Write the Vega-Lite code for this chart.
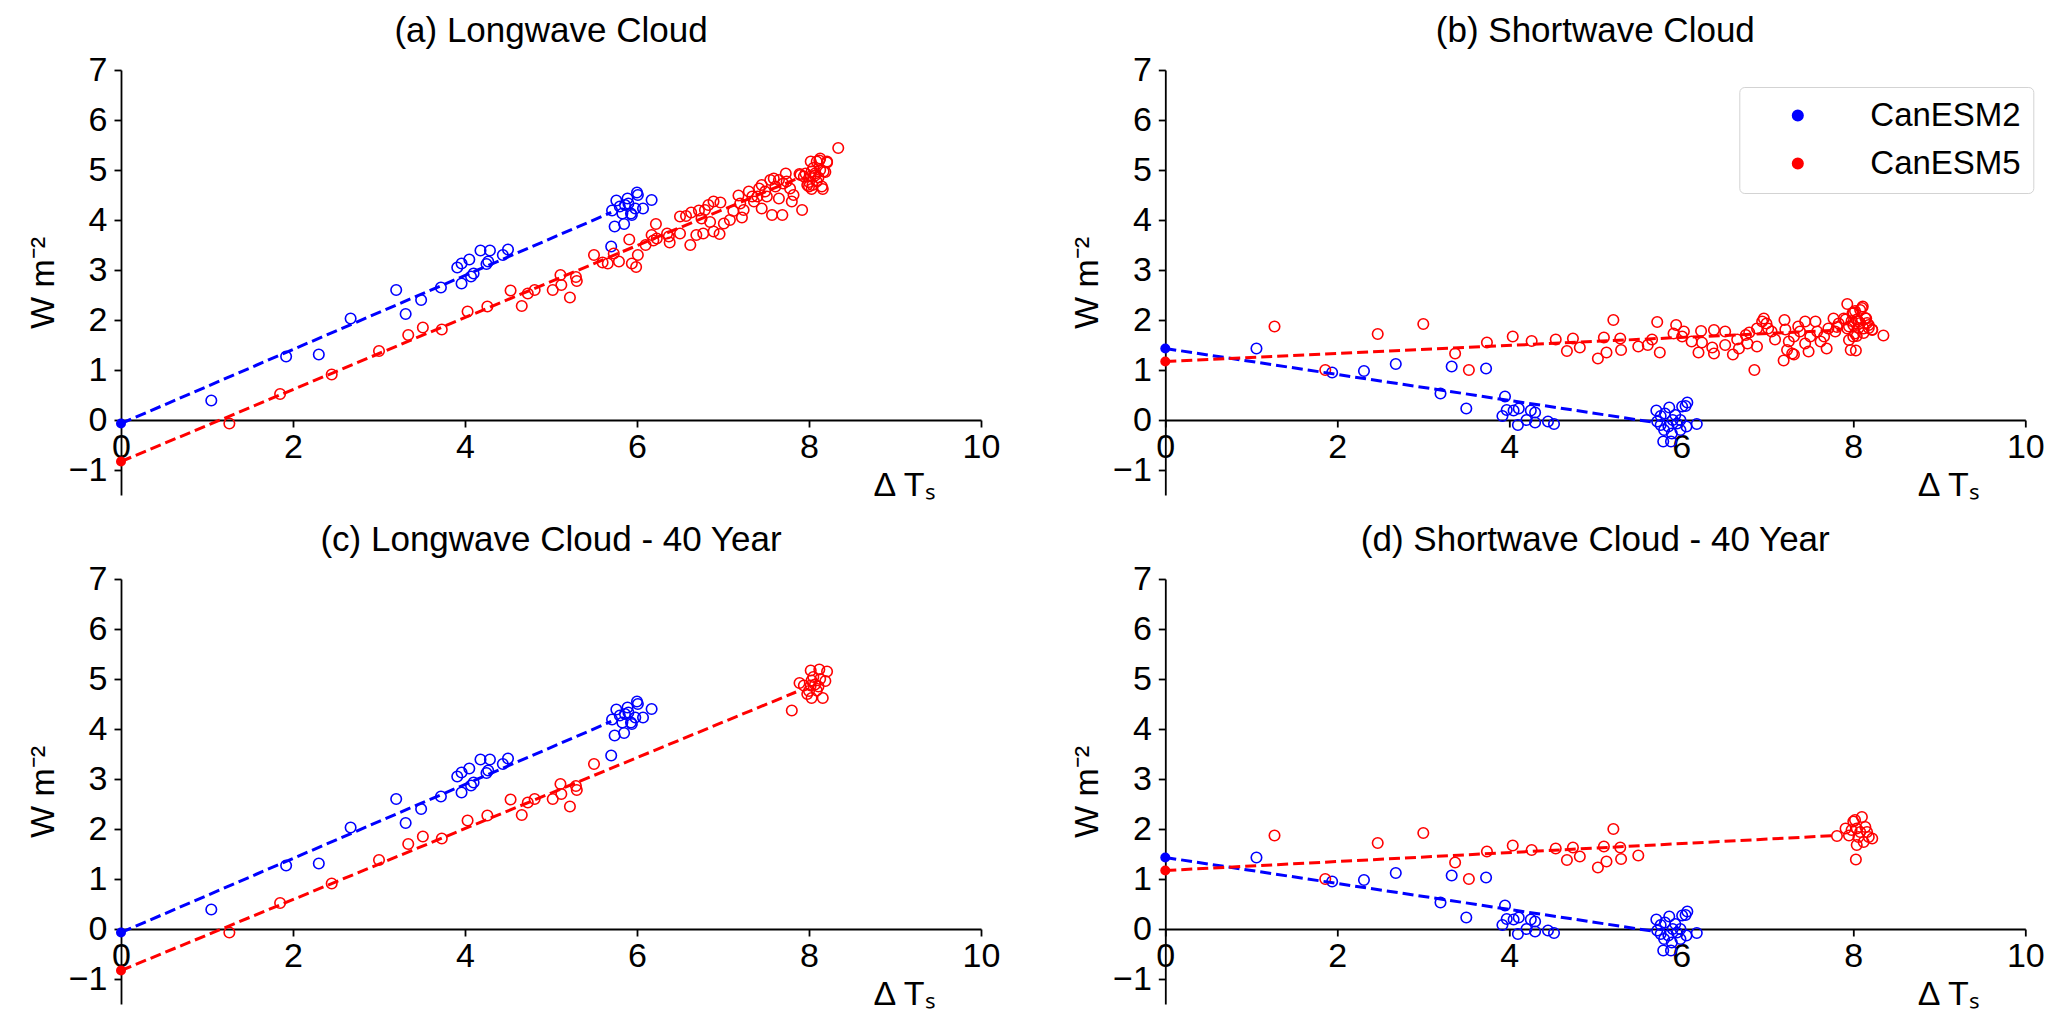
{
"$schema": "https://vega.github.io/schema/vega-lite/v6.json",
"background": "white",
"autosize": {"type": "pad"},
"padding": {"left": 26, "top": 14, "right": 0, "bottom": 0},
"config": {
  "view": {"stroke": null},
  "font": "Liberation Sans",
  "axis": {"domainColor": "black", "domainWidth": 1.8, "tickColor": "black", "tickWidth": 1.8, "tickSize": 7, "labelColor": "black", "labelFontSize": 34, "titleColor": "black", "titleFontSize": 34, "titleFontWeight": "normal", "grid": false, "labelFlush": false, "labelOverlap": false, "labelBound": false},
  "title": {"fontSize": 35, "fontWeight": "normal", "anchor": "middle", "frame": "group", "color": "black", "offset": 4, "baseline": "alphabetic"},
  "legend": {"labelFontSize": 33, "labelColor": "black", "symbolSize": 110, "symbolStrokeWidth": 1.6, "padding": 12, "cornerRadius": 5, "strokeColor": "#d3d3d3", "fillColor": "white", "rowPadding": 14, "symbolOffset": 30, "labelOffset": 56}
},
"datasets": {
"pts": [
{"v":"LW","m":"CanESM2","g":"both","x":1.05,"y":0.39},{"v":"LW","m":"CanESM2","g":"both","x":1.92,"y":1.27},{"v":"LW","m":"CanESM2","g":"both","x":2.30,"y":1.31},{"v":"LW","m":"CanESM2","g":"both","x":2.67,"y":2.03},{"v":"LW","m":"CanESM2","g":"both","x":3.20,"y":2.60},{"v":"LW","m":"CanESM2","g":"both","x":3.31,"y":2.12},{"v":"LW","m":"CanESM2","g":"both","x":3.49,"y":2.40},{"v":"LW","m":"CanESM2","g":"both","x":3.72,"y":2.65},{"v":"LW","m":"CanESM2","g":"both","x":3.96,"y":2.73},{"v":"LW","m":"CanESM2","g":"both","x":3.91,"y":3.05},{"v":"LW","m":"CanESM2","g":"both","x":3.96,"y":3.13},{"v":"LW","m":"CanESM2","g":"both","x":4.05,"y":3.21},{"v":"LW","m":"CanESM2","g":"both","x":4.07,"y":2.87},{"v":"LW","m":"CanESM2","g":"both","x":4.10,"y":2.93},{"v":"LW","m":"CanESM2","g":"both","x":4.18,"y":3.39},{"v":"LW","m":"CanESM2","g":"both","x":4.29,"y":3.39},{"v":"LW","m":"CanESM2","g":"both","x":4.25,"y":3.12},{"v":"LW","m":"CanESM2","g":"both","x":4.27,"y":3.17},{"v":"LW","m":"CanESM2","g":"both","x":4.44,"y":3.30},{"v":"LW","m":"CanESM2","g":"both","x":4.50,"y":3.41},
{"v":"LW","m":"CanESM2","g":"both","x":5.70,"y":3.47},{"v":"LW","m":"CanESM2","g":"both","x":5.74,"y":3.87},{"v":"LW","m":"CanESM2","g":"both","x":5.85,"y":3.92},{"v":"LW","m":"CanESM2","g":"both","x":5.71,"y":4.19},{"v":"LW","m":"CanESM2","g":"both","x":5.76,"y":4.39},{"v":"LW","m":"CanESM2","g":"both","x":5.80,"y":4.27},{"v":"LW","m":"CanESM2","g":"both","x":5.83,"y":4.13},{"v":"LW","m":"CanESM2","g":"both","x":5.89,"y":4.43},{"v":"LW","m":"CanESM2","g":"both","x":5.90,"y":4.33},{"v":"LW","m":"CanESM2","g":"both","x":5.94,"y":4.10},{"v":"LW","m":"CanESM2","g":"both","x":5.98,"y":4.23},{"v":"LW","m":"CanESM2","g":"both","x":6.00,"y":4.55},{"v":"LW","m":"CanESM2","g":"both","x":6.01,"y":4.50},{"v":"LW","m":"CanESM2","g":"both","x":6.07,"y":4.23},{"v":"LW","m":"CanESM2","g":"both","x":6.17,"y":4.40},{"v":"LW","m":"CanESM2","g":"both","x":5.86,"y":4.30},{"v":"LW","m":"CanESM2","g":"both","x":5.93,"y":4.13},
{"v":"SW","m":"CanESM2","g":"both","x":1.06,"y":1.43},{"v":"SW","m":"CanESM2","g":"both","x":1.94,"y":0.95},{"v":"SW","m":"CanESM2","g":"both","x":2.31,"y":0.98},{"v":"SW","m":"CanESM2","g":"both","x":2.68,"y":1.12},{"v":"SW","m":"CanESM2","g":"both","x":3.20,"y":0.53},{"v":"SW","m":"CanESM2","g":"both","x":3.33,"y":1.07},{"v":"SW","m":"CanESM2","g":"both","x":3.50,"y":0.23},{"v":"SW","m":"CanESM2","g":"both","x":3.73,"y":1.03},{"v":"SW","m":"CanESM2","g":"both","x":3.95,"y":0.47},{"v":"SW","m":"CanESM2","g":"both","x":3.92,"y":0.08},{"v":"SW","m":"CanESM2","g":"both","x":3.97,"y":0.20},{"v":"SW","m":"CanESM2","g":"both","x":4.05,"y":0.19},{"v":"SW","m":"CanESM2","g":"both","x":4.11,"y":0.23},{"v":"SW","m":"CanESM2","g":"both","x":4.10,"y":-0.10},{"v":"SW","m":"CanESM2","g":"both","x":4.20,"y":0.00},{"v":"SW","m":"CanESM2","g":"both","x":4.25,"y":0.19},{"v":"SW","m":"CanESM2","g":"both","x":4.30,"y":0.15},{"v":"SW","m":"CanESM2","g":"both","x":4.30,"y":-0.05},{"v":"SW","m":"CanESM2","g":"both","x":4.45,"y":-0.03},{"v":"SW","m":"CanESM2","g":"both","x":4.52,"y":-0.08},
{"v":"SW","m":"CanESM2","g":"both","x":5.71,"y":0.19},{"v":"SW","m":"CanESM2","g":"both","x":5.76,"y":0.08},{"v":"SW","m":"CanESM2","g":"both","x":5.81,"y":0.13},{"v":"SW","m":"CanESM2","g":"both","x":5.86,"y":0.25},{"v":"SW","m":"CanESM2","g":"both","x":5.93,"y":0.10},{"v":"SW","m":"CanESM2","g":"both","x":5.72,"y":-0.03},{"v":"SW","m":"CanESM2","g":"both","x":5.76,"y":-0.10},{"v":"SW","m":"CanESM2","g":"both","x":5.80,"y":-0.20},{"v":"SW","m":"CanESM2","g":"both","x":5.85,"y":-0.13},{"v":"SW","m":"CanESM2","g":"both","x":5.79,"y":-0.43},{"v":"SW","m":"CanESM2","g":"both","x":5.88,"y":-0.43},{"v":"SW","m":"CanESM2","g":"both","x":5.89,"y":-0.27},{"v":"SW","m":"CanESM2","g":"both","x":5.95,"y":-0.07},{"v":"SW","m":"CanESM2","g":"both","x":5.99,"y":0.00},{"v":"SW","m":"CanESM2","g":"both","x":5.99,"y":-0.20},{"v":"SW","m":"CanESM2","g":"both","x":6.01,"y":0.27},{"v":"SW","m":"CanESM2","g":"both","x":6.05,"y":0.28},{"v":"SW","m":"CanESM2","g":"both","x":6.07,"y":0.35},{"v":"SW","m":"CanESM2","g":"both","x":6.06,"y":-0.13},{"v":"SW","m":"CanESM2","g":"both","x":6.18,"y":-0.08},{"v":"SW","m":"CanESM2","g":"both","x":5.90,"y":0.00},
{"v":"LW","m":"CanESM5","g":"both","x":1.26,"y":-0.07},{"v":"LW","m":"CanESM5","g":"both","x":1.85,"y":0.52},{"v":"LW","m":"CanESM5","g":"both","x":2.45,"y":0.91},{"v":"LW","m":"CanESM5","g":"both","x":3.00,"y":1.38},{"v":"LW","m":"CanESM5","g":"both","x":3.34,"y":1.70},{"v":"LW","m":"CanESM5","g":"both","x":3.51,"y":1.85},{"v":"LW","m":"CanESM5","g":"both","x":3.73,"y":1.81},{"v":"LW","m":"CanESM5","g":"both","x":4.03,"y":2.17},{"v":"LW","m":"CanESM5","g":"both","x":4.26,"y":2.27},{"v":"LW","m":"CanESM5","g":"both","x":4.53,"y":2.59},{"v":"LW","m":"CanESM5","g":"both","x":4.66,"y":2.28},{"v":"LW","m":"CanESM5","g":"both","x":4.73,"y":2.53},{"v":"LW","m":"CanESM5","g":"both","x":4.81,"y":2.60},{"v":"LW","m":"CanESM5","g":"both","x":5.02,"y":2.60},{"v":"LW","m":"CanESM5","g":"both","x":5.11,"y":2.90},{"v":"LW","m":"CanESM5","g":"both","x":5.12,"y":2.70},{"v":"LW","m":"CanESM5","g":"both","x":5.22,"y":2.45},{"v":"LW","m":"CanESM5","g":"both","x":5.29,"y":2.86},{"v":"LW","m":"CanESM5","g":"both","x":5.30,"y":2.78},{"v":"LW","m":"CanESM5","g":"both","x":5.50,"y":3.30},
{"v":"LW","m":"CanESM5","g":"both","x":7.80,"y":4.37},{"v":"LW","m":"CanESM5","g":"both","x":7.89,"y":4.92},{"v":"LW","m":"CanESM5","g":"both","x":7.94,"y":4.87},{"v":"LW","m":"CanESM5","g":"both","x":8.02,"y":5.17},{"v":"LW","m":"CanESM5","g":"both","x":8.12,"y":5.19},{"v":"LW","m":"CanESM5","g":"both","x":8.21,"y":5.15},{"v":"LW","m":"CanESM5","g":"both","x":8.19,"y":4.96},{"v":"LW","m":"CanESM5","g":"both","x":8.03,"y":4.97},{"v":"LW","m":"CanESM5","g":"both","x":8.07,"y":4.89},{"v":"LW","m":"CanESM5","g":"both","x":8.11,"y":4.85},{"v":"LW","m":"CanESM5","g":"both","x":8.00,"y":4.76},{"v":"LW","m":"CanESM5","g":"both","x":8.03,"y":4.62},{"v":"LW","m":"CanESM5","g":"both","x":8.16,"y":4.62},{"v":"LW","m":"CanESM5","g":"both","x":8.05,"y":5.04},{"v":"LW","m":"CanESM5","g":"both","x":7.98,"y":4.70},{"v":"LW","m":"CanESM5","g":"both","x":8.09,"y":4.77},{"v":"LW","m":"CanESM5","g":"both","x":8.13,"y":5.00},{"v":"LW","m":"CanESM5","g":"both","x":8.02,"y":4.87},
{"v":"LW","m":"CanESM5","g":"full","x":5.60,"y":3.15},{"v":"LW","m":"CanESM5","g":"full","x":5.66,"y":3.13},{"v":"LW","m":"CanESM5","g":"full","x":5.73,"y":3.33},{"v":"LW","m":"CanESM5","g":"full","x":5.79,"y":3.17},{"v":"LW","m":"CanESM5","g":"full","x":5.91,"y":3.61},{"v":"LW","m":"CanESM5","g":"full","x":5.94,"y":3.13},{"v":"LW","m":"CanESM5","g":"full","x":5.99,"y":3.06},{"v":"LW","m":"CanESM5","g":"full","x":6.01,"y":3.30},{"v":"LW","m":"CanESM5","g":"full","x":6.10,"y":3.50},{"v":"LW","m":"CanESM5","g":"full","x":6.17,"y":3.70},{"v":"LW","m":"CanESM5","g":"full","x":6.22,"y":3.92},{"v":"LW","m":"CanESM5","g":"full","x":6.19,"y":3.59},{"v":"LW","m":"CanESM5","g":"full","x":6.23,"y":3.63},{"v":"LW","m":"CanESM5","g":"full","x":6.35,"y":3.73},{"v":"LW","m":"CanESM5","g":"full","x":6.38,"y":3.55},{"v":"LW","m":"CanESM5","g":"full","x":6.37,"y":3.67},{"v":"LW","m":"CanESM5","g":"full","x":6.50,"y":3.73},{"v":"LW","m":"CanESM5","g":"full","x":6.50,"y":4.07},{"v":"LW","m":"CanESM5","g":"full","x":6.57,"y":4.08},{"v":"LW","m":"CanESM5","g":"full","x":6.62,"y":3.50},{"v":"LW","m":"CanESM5","g":"full","x":6.63,"y":4.15},{"v":"LW","m":"CanESM5","g":"full","x":6.69,"y":3.70},{"v":"LW","m":"CanESM5","g":"full","x":6.72,"y":4.19},
{"v":"LW","m":"CanESM5","g":"full","x":6.75,"y":4.03},{"v":"LW","m":"CanESM5","g":"full","x":6.77,"y":3.73},{"v":"LW","m":"CanESM5","g":"full","x":6.79,"y":4.20},{"v":"LW","m":"CanESM5","g":"full","x":6.83,"y":4.30},{"v":"LW","m":"CanESM5","g":"full","x":6.85,"y":3.96},{"v":"LW","m":"CanESM5","g":"full","x":6.89,"y":4.37},{"v":"LW","m":"CanESM5","g":"full","x":6.89,"y":3.77},{"v":"LW","m":"CanESM5","g":"full","x":6.96,"y":3.72},{"v":"LW","m":"CanESM5","g":"full","x":6.97,"y":4.35},{"v":"LW","m":"CanESM5","g":"full","x":7.01,"y":3.93},{"v":"LW","m":"CanESM5","g":"full","x":7.08,"y":4.00},{"v":"LW","m":"CanESM5","g":"full","x":7.12,"y":4.18},{"v":"LW","m":"CanESM5","g":"full","x":7.18,"y":4.49},{"v":"LW","m":"CanESM5","g":"full","x":7.20,"y":4.33},{"v":"LW","m":"CanESM5","g":"full","x":7.22,"y":4.05},{"v":"LW","m":"CanESM5","g":"full","x":7.24,"y":4.20},{"v":"LW","m":"CanESM5","g":"full","x":7.30,"y":4.57},{"v":"LW","m":"CanESM5","g":"full","x":7.34,"y":4.47},{"v":"LW","m":"CanESM5","g":"full","x":7.36,"y":4.37},{"v":"LW","m":"CanESM5","g":"full","x":7.40,"y":4.47},{"v":"LW","m":"CanESM5","g":"full","x":7.42,"y":4.63},{"v":"LW","m":"CanESM5","g":"full","x":7.45,"y":4.70},{"v":"LW","m":"CanESM5","g":"full","x":7.45,"y":4.23},{"v":"LW","m":"CanESM5","g":"full","x":7.49,"y":4.57},{"v":"LW","m":"CanESM5","g":"full","x":7.51,"y":4.47},{"v":"LW","m":"CanESM5","g":"full","x":7.55,"y":4.80},{"v":"LW","m":"CanESM5","g":"full","x":7.57,"y":4.10},{"v":"LW","m":"CanESM5","g":"full","x":7.59,"y":4.83},{"v":"LW","m":"CanESM5","g":"full","x":7.61,"y":4.67},{"v":"LW","m":"CanESM5","g":"full","x":7.65,"y":4.43},{"v":"LW","m":"CanESM5","g":"full","x":7.65,"y":4.80},{"v":"LW","m":"CanESM5","g":"full","x":7.69,"y":4.10},{"v":"LW","m":"CanESM5","g":"full","x":7.70,"y":4.73},{"v":"LW","m":"CanESM5","g":"full","x":7.73,"y":4.93},{"v":"LW","m":"CanESM5","g":"full","x":7.74,"y":4.77},{"v":"LW","m":"CanESM5","g":"full","x":7.78,"y":4.63},{"v":"LW","m":"CanESM5","g":"full","x":7.82,"y":4.50},{"v":"LW","m":"CanESM5","g":"full","x":7.90,"y":4.90},{"v":"LW","m":"CanESM5","g":"full","x":7.92,"y":4.20},{"v":"LW","m":"CanESM5","g":"full","x":7.96,"y":4.93},{"v":"LW","m":"CanESM5","g":"full","x":8.00,"y":4.67},{"v":"LW","m":"CanESM5","g":"full","x":8.04,"y":4.70},{"v":"LW","m":"CanESM5","g":"full","x":8.07,"y":4.93},{"v":"LW","m":"CanESM5","g":"full","x":8.09,"y":5.17},{"v":"LW","m":"CanESM5","g":"full","x":8.13,"y":5.23},{"v":"LW","m":"CanESM5","g":"full","x":8.15,"y":4.67},{"v":"LW","m":"CanESM5","g":"full","x":8.17,"y":4.97},{"v":"LW","m":"CanESM5","g":"full","x":8.21,"y":5.17},{"v":"LW","m":"CanESM5","g":"full","x":8.34,"y":5.44},
{"v":"SW","m":"CanESM5","g":"both","x":1.27,"y":1.87},{"v":"SW","m":"CanESM5","g":"both","x":1.86,"y":1.00},{"v":"SW","m":"CanESM5","g":"both","x":2.47,"y":1.72},{"v":"SW","m":"CanESM5","g":"both","x":3.00,"y":1.92},{"v":"SW","m":"CanESM5","g":"both","x":3.37,"y":1.33},{"v":"SW","m":"CanESM5","g":"both","x":3.53,"y":1.00},{"v":"SW","m":"CanESM5","g":"both","x":3.74,"y":1.55},{"v":"SW","m":"CanESM5","g":"both","x":4.04,"y":1.67},{"v":"SW","m":"CanESM5","g":"both","x":4.26,"y":1.58},{"v":"SW","m":"CanESM5","g":"both","x":4.54,"y":1.61},{"v":"SW","m":"CanESM5","g":"both","x":4.67,"y":1.38},{"v":"SW","m":"CanESM5","g":"both","x":4.74,"y":1.63},{"v":"SW","m":"CanESM5","g":"both","x":4.82,"y":1.45},{"v":"SW","m":"CanESM5","g":"both","x":5.03,"y":1.23},{"v":"SW","m":"CanESM5","g":"both","x":5.10,"y":1.65},{"v":"SW","m":"CanESM5","g":"both","x":5.13,"y":1.35},{"v":"SW","m":"CanESM5","g":"both","x":5.21,"y":2.00},{"v":"SW","m":"CanESM5","g":"both","x":5.29,"y":1.63},{"v":"SW","m":"CanESM5","g":"both","x":5.30,"y":1.40},{"v":"SW","m":"CanESM5","g":"both","x":5.50,"y":1.47},
{"v":"SW","m":"CanESM5","g":"both","x":7.81,"y":1.86},{"v":"SW","m":"CanESM5","g":"both","x":7.91,"y":2.01},{"v":"SW","m":"CanESM5","g":"both","x":7.95,"y":1.87},{"v":"SW","m":"CanESM5","g":"both","x":8.00,"y":2.15},{"v":"SW","m":"CanESM5","g":"both","x":8.04,"y":2.01},{"v":"SW","m":"CanESM5","g":"both","x":8.10,"y":2.24},{"v":"SW","m":"CanESM5","g":"both","x":8.14,"y":2.04},{"v":"SW","m":"CanESM5","g":"both","x":8.04,"y":1.68},{"v":"SW","m":"CanESM5","g":"both","x":8.03,"y":1.39},{"v":"SW","m":"CanESM5","g":"both","x":8.22,"y":1.81},{"v":"SW","m":"CanESM5","g":"both","x":8.18,"y":1.84},{"v":"SW","m":"CanESM5","g":"both","x":8.08,"y":1.94},{"v":"SW","m":"CanESM5","g":"both","x":7.98,"y":1.98},{"v":"SW","m":"CanESM5","g":"both","x":8.06,"y":1.84},{"v":"SW","m":"CanESM5","g":"both","x":8.12,"y":1.74},{"v":"SW","m":"CanESM5","g":"both","x":8.02,"y":2.18},{"v":"SW","m":"CanESM5","g":"both","x":8.16,"y":1.94},
{"v":"SW","m":"CanESM5","g":"full","x":5.61,"y":1.50},{"v":"SW","m":"CanESM5","g":"full","x":5.66,"y":1.61},{"v":"SW","m":"CanESM5","g":"full","x":5.72,"y":1.96},{"v":"SW","m":"CanESM5","g":"full","x":5.75,"y":1.35},{"v":"SW","m":"CanESM5","g":"full","x":5.94,"y":1.90},{"v":"SW","m":"CanESM5","g":"full","x":5.91,"y":1.73},{"v":"SW","m":"CanESM5","g":"full","x":6.01,"y":1.67},{"v":"SW","m":"CanESM5","g":"full","x":6.03,"y":1.77},{"v":"SW","m":"CanESM5","g":"full","x":6.12,"y":1.57},{"v":"SW","m":"CanESM5","g":"full","x":6.20,"y":1.35},{"v":"SW","m":"CanESM5","g":"full","x":6.23,"y":1.78},{"v":"SW","m":"CanESM5","g":"full","x":6.24,"y":1.55},{"v":"SW","m":"CanESM5","g":"full","x":6.36,"y":1.45},{"v":"SW","m":"CanESM5","g":"full","x":6.38,"y":1.33},{"v":"SW","m":"CanESM5","g":"full","x":6.38,"y":1.80},{"v":"SW","m":"CanESM5","g":"full","x":6.51,"y":1.50},{"v":"SW","m":"CanESM5","g":"full","x":6.51,"y":1.77},{"v":"SW","m":"CanESM5","g":"full","x":6.60,"y":1.31},{"v":"SW","m":"CanESM5","g":"full","x":6.65,"y":1.61},{"v":"SW","m":"CanESM5","g":"full","x":6.67,"y":1.43},{"v":"SW","m":"CanESM5","g":"full","x":6.75,"y":1.70},{"v":"SW","m":"CanESM5","g":"full","x":6.77,"y":1.53},{"v":"SW","m":"CanESM5","g":"full","x":6.79,"y":1.75},{"v":"SW","m":"CanESM5","g":"full","x":6.85,"y":1.00},{"v":"SW","m":"CanESM5","g":"full","x":6.88,"y":1.47},{"v":"SW","m":"CanESM5","g":"full","x":6.88,"y":1.83},{"v":"SW","m":"CanESM5","g":"full","x":6.94,"y":1.97},{"v":"SW","m":"CanESM5","g":"full","x":6.96,"y":2.03},{"v":"SW","m":"CanESM5","g":"full","x":6.99,"y":1.93},{"v":"SW","m":"CanESM5","g":"full","x":7.01,"y":1.83},{"v":"SW","m":"CanESM5","g":"full","x":7.05,"y":1.77},{"v":"SW","m":"CanESM5","g":"full","x":7.09,"y":1.61},{"v":"SW","m":"CanESM5","g":"full","x":7.19,"y":1.19},{"v":"SW","m":"CanESM5","g":"full","x":7.20,"y":2.00},{"v":"SW","m":"CanESM5","g":"full","x":7.21,"y":1.81},{"v":"SW","m":"CanESM5","g":"full","x":7.23,"y":1.40},{"v":"SW","m":"CanESM5","g":"full","x":7.25,"y":1.57},{"v":"SW","m":"CanESM5","g":"full","x":7.29,"y":1.33},{"v":"SW","m":"CanESM5","g":"full","x":7.31,"y":1.31},{"v":"SW","m":"CanESM5","g":"full","x":7.31,"y":1.67},{"v":"SW","m":"CanESM5","g":"full","x":7.36,"y":1.87},{"v":"SW","m":"CanESM5","g":"full","x":7.38,"y":1.77},{"v":"SW","m":"CanESM5","g":"full","x":7.44,"y":1.97},{"v":"SW","m":"CanESM5","g":"full","x":7.44,"y":1.53},{"v":"SW","m":"CanESM5","g":"full","x":7.48,"y":1.37},{"v":"SW","m":"CanESM5","g":"full","x":7.50,"y":1.67},{"v":"SW","m":"CanESM5","g":"full","x":7.56,"y":1.97},{"v":"SW","m":"CanESM5","g":"full","x":7.58,"y":1.77},{"v":"SW","m":"CanESM5","g":"full","x":7.62,"y":1.57},{"v":"SW","m":"CanESM5","g":"full","x":7.66,"y":1.67},{"v":"SW","m":"CanESM5","g":"full","x":7.69,"y":1.43},{"v":"SW","m":"CanESM5","g":"full","x":7.71,"y":1.83},{"v":"SW","m":"CanESM5","g":"full","x":7.77,"y":2.03},{"v":"SW","m":"CanESM5","g":"full","x":7.79,"y":1.77},{"v":"SW","m":"CanESM5","g":"full","x":7.83,"y":1.93},{"v":"SW","m":"CanESM5","g":"full","x":7.89,"y":2.03},{"v":"SW","m":"CanESM5","g":"full","x":7.93,"y":2.32},{"v":"SW","m":"CanESM5","g":"full","x":7.95,"y":1.60},{"v":"SW","m":"CanESM5","g":"full","x":7.97,"y":1.40},{"v":"SW","m":"CanESM5","g":"full","x":7.99,"y":2.13},{"v":"SW","m":"CanESM5","g":"full","x":8.00,"y":1.90},{"v":"SW","m":"CanESM5","g":"full","x":8.02,"y":1.73},{"v":"SW","m":"CanESM5","g":"full","x":8.06,"y":1.97},{"v":"SW","m":"CanESM5","g":"full","x":8.08,"y":2.20},{"v":"SW","m":"CanESM5","g":"full","x":8.11,"y":2.27},{"v":"SW","m":"CanESM5","g":"full","x":8.12,"y":1.83},{"v":"SW","m":"CanESM5","g":"full","x":8.15,"y":2.03},{"v":"SW","m":"CanESM5","g":"full","x":8.18,"y":1.90},{"v":"SW","m":"CanESM5","g":"full","x":8.22,"y":1.80},{"v":"SW","m":"CanESM5","g":"full","x":8.35,"y":1.69},{"v":"SW","m":"CanESM5","g":"full","x":8.00,"y":1.67},{"v":"SW","m":"CanESM5","g":"full","x":7.93,"y":1.83}
],
"fit": [
{"p":"a","m":"CanESM2","x":0,"y":-0.07},{"p":"a","m":"CanESM2","x":5.7,"y":4.15},
{"p":"a","m":"CanESM5","x":0,"y":-0.83},{"p":"a","m":"CanESM5","x":7.85,"y":4.82},
{"p":"b","m":"CanESM2","x":0,"y":1.43},{"p":"b","m":"CanESM2","x":5.7,"y":-0.05},
{"p":"b","m":"CanESM5","x":0,"y":1.17},{"p":"b","m":"CanESM5","x":7.85,"y":1.80},
{"p":"c","m":"CanESM2","x":0,"y":-0.07},{"p":"c","m":"CanESM2","x":5.7,"y":4.15},
{"p":"c","m":"CanESM5","x":0,"y":-0.83},{"p":"c","m":"CanESM5","x":7.85,"y":4.74},
{"p":"d","m":"CanESM2","x":0,"y":1.43},{"p":"d","m":"CanESM2","x":5.7,"y":-0.05},
{"p":"d","m":"CanESM5","x":0,"y":1.17},{"p":"d","m":"CanESM5","x":7.8,"y":1.87}
]
},
"resolve": {"scale": {"color": "independent"}, "legend": {"color": "independent"}},
"columns": 2,
"spacing": {"row": 84, "column": 184.3},
"bounds": "flush",
"concat": [
{
 "width": 860, "height": 425,
 "title": {"text": "(a) Longwave Cloud"},
 "encoding": {
  "x": {"field": "x", "type": "quantitative", "scale": {"domain": [0, 10], "nice": false, "zero": false}, "axis": {"values": [0,2,4,6,8,10], "offset": -75, "title": "Δ Tₛ", "titleX": 752, "titleY": 75, "titleAlign": "left", "titleBaseline": "alphabetic", "labelPadding": 3}},
  "y": {"field": "y", "type": "quantitative", "scale": {"domain": [-1.5, 7], "nice": false, "zero": false}, "axis": {"values": [-1,0,1,2,3,4,5,6,7], "title": "W m⁻²", "labelPadding": 7, "titlePadding": 8}}
 },
 "layer": [
  {"data": {"name": "pts"}, "transform": [{"filter": "datum.v == 'LW'"}], "mark": {"type": "point", "shape": "circle", "filled": false, "size": 110, "strokeWidth": 1.6, "opacity": 1}, "encoding": {"color": {"field": "m", "type": "nominal", "scale": {"domain": ["CanESM2", "CanESM5"], "range": ["#0000ff", "#ff0000"]}, "legend": null}}},
  {"data": {"name": "fit"}, "transform": [{"filter": "datum.p == 'a'"}], "mark": {"type": "line", "strokeDash": [11, 5], "strokeWidth": 3}, "encoding": {"color": {"field": "m", "type": "nominal", "legend": null}}},
  {"data": {"name": "fit"}, "transform": [{"filter": "datum.p == 'a' && datum.x == 0"}], "mark": {"type": "point", "shape": "circle", "filled": true, "size": 100, "opacity": 1}, "encoding": {"color": {"field": "m", "type": "nominal", "legend": null}}},
  {"data": {"values": [{}]}, "mark": {"type": "text", "align": "left", "baseline": "alphabetic", "fontSize": 26.5}, "encoding": {"x": {"datum": 0.5}, "y": {"datum": 3.5}, "color": {"value": "#ff0000"}, "text": {"value": "0.72 W m⁻²K⁻¹"}}},
  {"data": {"values": [{}]}, "mark": {"type": "text", "align": "left", "baseline": "alphabetic", "fontSize": 26.5}, "encoding": {"x": {"datum": 0.5}, "y": {"datum": 3.0}, "color": {"value": "#0000ff"}, "text": {"value": "0.74 W m⁻²K⁻¹"}}}
 ]
},
{
 "width": 860, "height": 425,
 "title": {"text": "(b) Shortwave Cloud"},
 "encoding": {
  "x": {"field": "x", "type": "quantitative", "scale": {"domain": [0, 10], "nice": false, "zero": false}, "axis": {"values": [0,2,4,6,8,10], "offset": -75, "title": "Δ Tₛ", "titleX": 752, "titleY": 75, "titleAlign": "left", "titleBaseline": "alphabetic", "labelPadding": 3}},
  "y": {"field": "y", "type": "quantitative", "scale": {"domain": [-1.5, 7], "nice": false, "zero": false}, "axis": {"values": [-1,0,1,2,3,4,5,6,7], "title": "W m⁻²", "labelPadding": 7, "titlePadding": 8}}
 },
 "layer": [
  {"data": {"name": "pts"}, "transform": [{"filter": "datum.v == 'SW'"}], "mark": {"type": "point", "shape": "circle", "filled": false, "size": 110, "strokeWidth": 1.6, "opacity": 1}, "encoding": {"color": {"field": "m", "type": "nominal", "scale": {"domain": ["CanESM2", "CanESM5"], "range": ["#0000ff", "#ff0000"]}, "legend": {"orient": "none", "legendX": 574, "legendY": 17, "title": null}}}},
  {"data": {"name": "fit"}, "transform": [{"filter": "datum.p == 'b'"}], "mark": {"type": "line", "strokeDash": [11, 5], "strokeWidth": 3}, "encoding": {"color": {"field": "m", "type": "nominal", "legend": null}}},
  {"data": {"name": "fit"}, "transform": [{"filter": "datum.p == 'b' && datum.x == 0"}], "mark": {"type": "point", "shape": "circle", "filled": true, "size": 100, "opacity": 1}, "encoding": {"color": {"field": "m", "type": "nominal", "legend": null}}},
  {"data": {"values": [{}]}, "mark": {"type": "text", "align": "left", "baseline": "alphabetic", "fontSize": 26.5}, "encoding": {"x": {"datum": 0.5}, "y": {"datum": 3.5}, "color": {"value": "#ff0000"}, "text": {"value": "0.08 W m⁻²K⁻¹"}}},
  {"data": {"values": [{}]}, "mark": {"type": "text", "align": "left", "baseline": "alphabetic", "fontSize": 26.5}, "encoding": {"x": {"datum": 0.5}, "y": {"datum": 3.0}, "color": {"value": "#0000ff"}, "text": {"value": "-0.26 W m⁻²K⁻¹"}}}
 ]
},
{
 "width": 860, "height": 425,
 "title": {"text": "(c) Longwave Cloud - 40 Year"},
 "encoding": {
  "x": {"field": "x", "type": "quantitative", "scale": {"domain": [0, 10], "nice": false, "zero": false}, "axis": {"values": [0,2,4,6,8,10], "offset": -75, "title": "Δ Tₛ", "titleX": 752, "titleY": 75, "titleAlign": "left", "titleBaseline": "alphabetic", "labelPadding": 3}},
  "y": {"field": "y", "type": "quantitative", "scale": {"domain": [-1.5, 7], "nice": false, "zero": false}, "axis": {"values": [-1,0,1,2,3,4,5,6,7], "title": "W m⁻²", "labelPadding": 7, "titlePadding": 8}}
 },
 "layer": [
  {"data": {"name": "pts"}, "transform": [{"filter": "datum.v == 'LW' && datum.g == 'both'"}], "mark": {"type": "point", "shape": "circle", "filled": false, "size": 110, "strokeWidth": 1.6, "opacity": 1}, "encoding": {"color": {"field": "m", "type": "nominal", "scale": {"domain": ["CanESM2", "CanESM5"], "range": ["#0000ff", "#ff0000"]}, "legend": null}}},
  {"data": {"name": "fit"}, "transform": [{"filter": "datum.p == 'c'"}], "mark": {"type": "line", "strokeDash": [11, 5], "strokeWidth": 3}, "encoding": {"color": {"field": "m", "type": "nominal", "legend": null}}},
  {"data": {"name": "fit"}, "transform": [{"filter": "datum.p == 'c' && datum.x == 0"}], "mark": {"type": "point", "shape": "circle", "filled": true, "size": 100, "opacity": 1}, "encoding": {"color": {"field": "m", "type": "nominal", "legend": null}}},
  {"data": {"values": [{}]}, "mark": {"type": "text", "align": "left", "baseline": "alphabetic", "fontSize": 26.5}, "encoding": {"x": {"datum": 0.5}, "y": {"datum": 3.5}, "color": {"value": "#ff0000"}, "text": {"value": "0.71 W m⁻²K⁻¹"}}},
  {"data": {"values": [{}]}, "mark": {"type": "text", "align": "left", "baseline": "alphabetic", "fontSize": 26.5}, "encoding": {"x": {"datum": 0.5}, "y": {"datum": 3.0}, "color": {"value": "#0000ff"}, "text": {"value": "0.74 W m⁻²K⁻¹"}}}
 ]
},
{
 "width": 860, "height": 425,
 "title": {"text": "(d) Shortwave Cloud - 40 Year"},
 "encoding": {
  "x": {"field": "x", "type": "quantitative", "scale": {"domain": [0, 10], "nice": false, "zero": false}, "axis": {"values": [0,2,4,6,8,10], "offset": -75, "title": "Δ Tₛ", "titleX": 752, "titleY": 75, "titleAlign": "left", "titleBaseline": "alphabetic", "labelPadding": 3}},
  "y": {"field": "y", "type": "quantitative", "scale": {"domain": [-1.5, 7], "nice": false, "zero": false}, "axis": {"values": [-1,0,1,2,3,4,5,6,7], "title": "W m⁻²", "labelPadding": 7, "titlePadding": 8}}
 },
 "layer": [
  {"data": {"name": "pts"}, "transform": [{"filter": "datum.v == 'SW' && datum.g == 'both'"}], "mark": {"type": "point", "shape": "circle", "filled": false, "size": 110, "strokeWidth": 1.6, "opacity": 1}, "encoding": {"color": {"field": "m", "type": "nominal", "scale": {"domain": ["CanESM2", "CanESM5"], "range": ["#0000ff", "#ff0000"]}, "legend": null}}},
  {"data": {"name": "fit"}, "transform": [{"filter": "datum.p == 'd'"}], "mark": {"type": "line", "strokeDash": [11, 5], "strokeWidth": 3}, "encoding": {"color": {"field": "m", "type": "nominal", "legend": null}}},
  {"data": {"name": "fit"}, "transform": [{"filter": "datum.p == 'd' && datum.x == 0"}], "mark": {"type": "point", "shape": "circle", "filled": true, "size": 100, "opacity": 1}, "encoding": {"color": {"field": "m", "type": "nominal", "legend": null}}},
  {"data": {"values": [{}]}, "mark": {"type": "text", "align": "left", "baseline": "alphabetic", "fontSize": 26.5}, "encoding": {"x": {"datum": 0.5}, "y": {"datum": 3.5}, "color": {"value": "#ff0000"}, "text": {"value": "0.09 W m⁻²K⁻¹"}}},
  {"data": {"values": [{}]}, "mark": {"type": "text", "align": "left", "baseline": "alphabetic", "fontSize": 26.5}, "encoding": {"x": {"datum": 0.5}, "y": {"datum": 3.0}, "color": {"value": "#0000ff"}, "text": {"value": "-0.26 W m⁻²K⁻¹"}}}
 ]
}
]
}
